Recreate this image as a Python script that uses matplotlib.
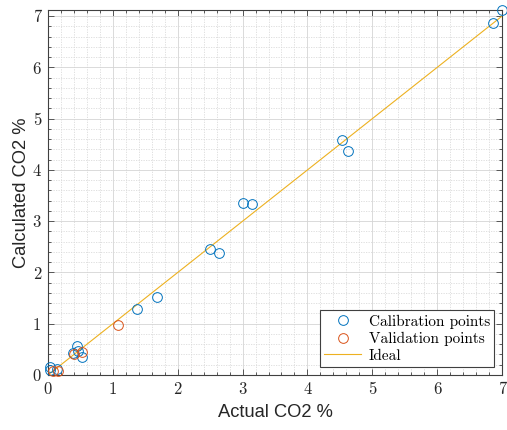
import matplotlib
matplotlib.use("Agg")
import matplotlib.pyplot as plt
from matplotlib.ticker import MultipleLocator

# Calibration set: actual vs. calculated CO2 concentration (%)
cal_actual = [0.03, 0.03, 0.14, 0.39, 0.44, 0.47, 0.53, 1.37, 1.68, 2.50, 2.64,
              3.01, 3.15, 4.53, 4.63, 6.86, 7.00]
cal_calc = [0.16, 0.10, 0.11, 0.42, 0.57, 0.46, 0.36, 1.29, 1.52, 2.46, 2.38,
            3.36, 3.33, 4.58, 4.37, 6.86, 7.12]

# Validation set
val_actual = [0.08, 0.16, 0.40, 0.53, 1.08]
val_calc = [0.08, 0.08, 0.41, 0.45, 0.97]

# Reference line y = x
ideal = [0, 7]

x_ticks = [0, 1, 2, 3, 4, 5, 6, 7]
y_ticks = [0, 1, 2, 3, 4, 5, 6, 7]

blue = "#0072BD"
orange = "#D95319"
yellow = "#EDB120"
label_col = "#262626"

fig = plt.figure(figsize=(5.07, 4.30), dpi=100)
ax = fig.add_axes([48 / 507, 55 / 430, 454 / 507, 365 / 430])

ax.plot(cal_actual, cal_calc, linestyle="none", marker="o", markersize=7,
        markerfacecolor="none", markeredgecolor=blue, markeredgewidth=0.7,
        clip_on=False, zorder=3, label="Calibration points")
ax.plot(val_actual, val_calc, linestyle="none", marker="o", markersize=7,
        markerfacecolor="none", markeredgecolor=orange, markeredgewidth=0.7,
        clip_on=False, zorder=3, label="Validation points")
ax.plot(ideal, ideal, color=yellow, linewidth=0.8, zorder=2, label="Ideal")

ax.set_xlim(0, 7)
ax.set_ylim(0, 7.12)
ax.set_xticks(x_ticks)
ax.set_yticks(y_ticks)
ax.xaxis.set_minor_locator(MultipleLocator(0.2))
ax.yaxis.set_minor_locator(MultipleLocator(0.2))

ax.grid(which="major", color="#d4d4d4", linewidth=0.6, linestyle="-")
ax.grid(which="minor", color="#dadada", linewidth=0.6, linestyle=(0, (1.5, 1.5)))
ax.set_axisbelow(True)

ax.tick_params(which="both", direction="in", top=True, right=True,
               color="#404040", width=0.6)
ax.tick_params(which="major", length=4, labelsize=12, labelcolor=label_col, pad=5)
ax.tick_params(which="minor", length=2)
for lab in ax.get_xticklabels() + ax.get_yticklabels():
    lab.set_fontfamily("cmr10")
for sp in ax.spines.values():
    sp.set_color("#404040")
    sp.set_linewidth(0.8)

ax.set_xlabel("Actual CO2 %", fontsize=13.2, family="Liberation Sans",
              color=label_col, labelpad=5)
ax.set_ylabel("Calculated CO2 %", fontsize=13.2, family="Liberation Sans",
              color=label_col, labelpad=2)

leg = ax.legend(loc="lower right", prop={"family": "cmr10", "size": 11},
                fancybox=False, edgecolor="#404040", framealpha=1,
                borderaxespad=0.5, handlelength=2.4, labelspacing=0.2,
                borderpad=0.3, handletextpad=0.5)
leg.get_frame().set_linewidth(0.8)

fig.savefig("out.png", dpi=100)
